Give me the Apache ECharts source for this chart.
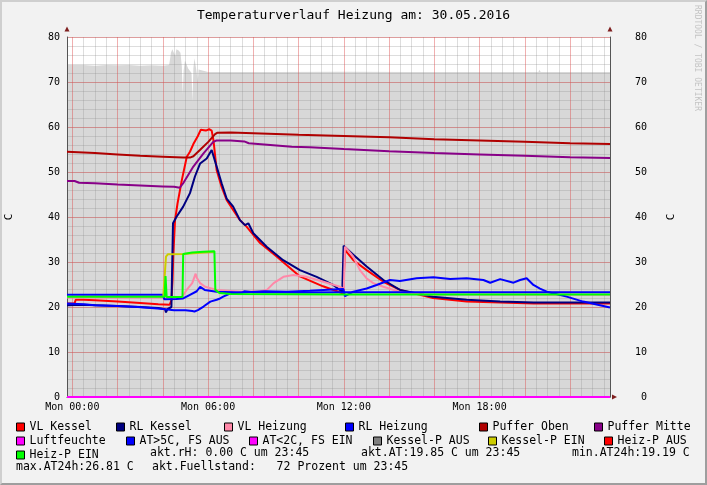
<!DOCTYPE html>
<html><head><meta charset="utf-8">
<script src="https://cdn.jsdelivr.net/npm/echarts@6/dist/echarts.min.js"></script>
<style>
html,body{margin:0;padding:0;background:#f2f2f2;}
#wrap{position:relative;width:707px;height:485px;}
#c{width:707px;height:485px;}
#frame{position:absolute;left:0;top:0;width:707px;height:485px;box-sizing:border-box;border-top:2px solid #cfcfcf;border-left:2px solid #cfcfcf;border-bottom:2px solid #9e9e9e;border-right:2px solid #9e9e9e;pointer-events:none;}
</style></head>
<body><div id="wrap"><div id="c"></div><div id="frame"></div></div>
<script>
// ---------- DATA (time in hours since Mon 00:00, values in C / %) ----------
const X_MIN = -0.235, X_MAX = 23.765;
const xTickHours = [0, 6, 12, 18];
const xTickLabels = ['Mon 00:00', 'Mon 06:00', 'Mon 12:00', 'Mon 18:00'];
const yTicks = [0, 10, 20, 30, 40, 50, 60, 70, 80];

const fuellstand = [[-0.235,73.8],[0.5,73.8],[1.0,73.6],[1.5,73.8],[2.0,73.7],[2.5,73.8],[3.0,73.6],[3.5,73.7],[4.0,73.6],[4.28,73.8],[4.36,76.5],[4.42,77.3],[4.5,77.0],[4.55,75.8],[4.6,77.3],[4.7,77.0],[4.78,76.5],[4.84,73.5],[4.88,67.2],[4.92,72.5],[4.98,74.8],[5.05,74.5],[5.12,73.0],[5.2,73.2],[5.27,72.0],[5.31,65.6],[5.35,73.0],[5.4,75.3],[5.46,75.0],[5.5,72.0],[5.54,69.8],[5.58,72.8],[5.65,72.5],[6.0,72.2],[9.0,72.2],[12.0,72.3],[15.0,72.2],[18.0,72.2],[20.6,72.2],[20.65,72.7],[20.7,72.2],[23.765,72.2]];

const vlKessel = [[-0.235,20.8],[0.1,20.8],[0.15,21.6],[0.5,21.6],[1,21.5],[2,21.2],[3,20.9],[3.8,20.6],[4.3,20.5],[4.38,21.5],[4.43,26],[4.46,31.2],[4.54,39.3],[4.65,43],[4.84,48.2],[5.06,53.4],[5.2,54.5],[5.35,56.2],[5.55,58],[5.68,59.4],[5.75,59.6],[5.9,59.2],[6.05,59.5],[6.16,59.2],[6.24,57],[6.38,50.4],[6.6,46.7],[6.82,43.8],[7.05,42],[7.41,39.3],[7.71,37.8],[8.3,34.2],[9.03,31.2],[10.06,26.8],[11.08,24.6],[11.97,23.0],[12.05,32.7],[12.42,30.4],[13.01,28.2],[13.75,25.6],[14.48,23.8],[15.94,22.0],[17.43,21.2],[18.91,21.0],[20.4,20.8],[22,20.8],[23.765,20.8]];

const rlKessel = [[-0.235,20.4],[0.5,20.5],[1,20.4],[2,20.2],[3,20.0],[3.8,19.8],[4.1,19.5],[4.14,18.8],[4.2,19.5],[4.38,20],[4.45,38.6],[4.6,40],[4.9,42.3],[5.2,45.3],[5.42,49],[5.65,51.9],[5.94,53],[6.16,54.9],[6.38,51.2],[6.6,47.5],[6.82,44.1],[7.11,42.3],[7.41,39.3],[7.63,38.2],[7.78,38.6],[8.0,36.4],[8.59,33.4],[9.32,30.4],[10.06,28.2],[10.8,26.7],[11.53,24.9],[11.93,23.4],[11.99,33.6],[12.42,31.6],[13.01,29],[13.75,26],[14.48,23.8],[15.94,22.3],[17.43,21.6],[18.91,21.2],[20.4,21],[22,21],[23.765,21]];

const vlHeizung = [[-0.235,22.1],[4.3,22.1],[4.85,22.2],[4.95,23],[5.1,24.1],[5.3,25.3],[5.45,27.4],[5.5,26.5],[5.65,25.3],[5.87,24.5],[6.38,23.8],[7.5,23.4],[8.3,23.5],[8.6,23.8],[8.9,25.3],[9.33,26.7],[9.77,27.1],[10.36,26.7],[11.1,25.6],[11.83,24.5],[12.0,24.0],[12.05,33.4],[12.42,31.2],[12.71,28.2],[13.0,26.4],[13.3,25.3],[13.75,24.5],[14.5,23.3],[15.5,22.8],[23.765,22.7]];

const rlHeizung = [[-0.235,22.7],[4.0,22.7],[4.07,21.7],[4.6,21.8],[4.9,21.9],[5.2,22.7],[5.5,23.5],[5.65,24.5],[5.85,23.8],[6.38,23.4],[7.5,23.2],[7.6,23.5],[8,23.3],[9,23.3],[10,23.2],[12,23.3],[14,23.3],[18,23.3],[23.765,23.3]];

const pufferOben = [[-0.235,54.5],[1,54.2],[2,53.9],[3,53.6],[4,53.4],[4.9,53.2],[5.2,53.2],[5.35,53.5],[5.64,54.9],[6.01,56.7],[6.31,58.4],[6.4,58.7],[7,58.8],[10,58.3],[12,58.0],[14,57.7],[16,57.3],[18,57.0],[20,56.7],[22,56.4],[23.765,56.2]];

const pufferMitte = [[-0.235,48.0],[0.1,48.0],[0.3,47.6],[1,47.5],[2,47.2],[3,47.0],[4,46.8],[4.5,46.7],[4.75,46.5],[4.9,47.5],[5.35,51.2],[5.79,54.1],[6.23,56.7],[6.37,57.0],[7.0,57.0],[7.6,56.8],[7.8,56.4],[9.7,55.6],[10.5,55.5],[12,55.1],[14,54.6],[16,54.2],[18,53.9],[20,53.6],[22,53.3],[23.765,53.1]];

const luftfeuchte = [[-0.235,0],[23.765,0]];

const atWarm = [[-0.235,20.8],[0.5,20.6],[1.0,20.4],[2.0,20.2],[2.9,20.0],[3.9,19.6],[4.5,19.3],[5.0,19.3],[5.3,19.1],[5.4,19.0],[5.55,19.3],[5.8,20.1],[6.1,21.2],[6.38,21.6],[6.53,21.9],[6.67,22.3],[6.97,23.0],[7.5,23.2],[8.5,23.5],[9.5,23.4],[10.5,23.6],[11.5,23.9],[11.98,24.0],[12.05,22.4],[12.42,23.4],[13.01,24.1],[13.45,24.9],[14.04,26.0],[14.48,25.8],[15.22,26.4],[15.96,26.6],[16.7,26.2],[17.43,26.4],[18.17,26.0],[18.47,25.4],[18.91,26.2],[19.5,25.4],[19.79,26.0],[20.08,26.4],[20.38,24.9],[20.67,24.1],[20.97,23.4],[21.85,22.3],[22.58,21.2],[23.32,20.4],[23.765,19.9]];
const atCold = [];
const kesselPAus = [];
const kesselPEin = [[4.02,22.3],[4.08,26.7],[4.14,31.2],[4.22,31.7],[4.9,31.8],[6.28,32.3]];
const heizPAus = [];
const heizPEin = [[-0.235,22.3],[4.08,22.3],[4.12,26.9],[4.17,22.2],[4.87,22.2],[4.9,31.8],[5.3,32.1],[5.8,32.3],[6.28,32.4],[6.32,23.8],[6.5,23.1],[7.0,22.9],[12,22.8],[23.765,22.8]];

const seriesNames = ['VL Kessel','RL Kessel','VL Heizung','RL Heizung','Puffer Oben','Puffer Mitte','Luftfeuchte','AT>5C, FS AUS','AT<2C, FS EIN','Kessel-P AUS','Kessel-P EIN','Heiz-P AUS','Heiz-P EIN'];
const seriesData = [vlKessel, rlKessel, vlHeizung, rlHeizung, pufferOben, pufferMitte, luftfeuchte, atWarm, atCold, kesselPAus, kesselPEin, heizPAus, heizPEin];
const seriesColors = ['#ff0000','#000080','#ff88a8','#0000ff','#b00000','#880088','#ff00ff','#0000ff','#ff00ff','#808080','#cccc00','#ff0000','#00ff00'];

const infoTexts = ['akt.rH: 0.00 C um 23:45','akt.AT:19.85 C um 23:45','min.AT24h:19.19 C','max.AT24h:26.81 C','akt.Fuellstand:   72 Prozent um 23:45'];

// ---------- LAYOUT ----------
const MONO = 'DejaVu Sans Mono';
const legendPos = [
  [16,425],[116,425],[224,425],[345,425],[479,425],[594,425],
  [16,439],[126,439],[249,439],[373,439],[488,439],[604,439],
  [16,453]
];
const infoPos = [[150,453],[361,453],[572,453],[16,467],[152,467]];

const minorGrid = [], majorGrid = [];
for (let h = 0; h < X_MAX; h += 0.5) { if (h % 2 === 0) majorGrid.push(h); else minorGrid.push(h); }

const GRID_MINOR = 'rgba(143,143,143,0.30)';
const GRID_MAJOR = 'rgba(222,80,80,0.45)';
const AXIS_COL = '#555555';
const ARROW_COL = '#7f1f1f';

const series = [];
series.push({
  name: 'Fuellstand', type: 'line', data: fuellstand, z: 0, symbol: 'none', silent: true,
  lineStyle: { width: 0, color: '#d8d8d8' }, itemStyle: { color: '#d8d8d8' },
  areaStyle: { color: '#d8d8d8', opacity: 1 }
});
series.push({
  name: '_minor', type: 'line', data: [], z: 1, silent: true,
  markLine: { z: 1, silent: true, symbol: ['none','none'], label: { show: false }, animation: false,
    lineStyle: { type: 'solid', width: 1, color: GRID_MINOR },
    data: minorGrid.map(h => ({ xAxis: h })) }
});
series.push({
  name: '_major', type: 'line', data: [], z: 2, silent: true,
  markLine: { z: 2, silent: true, symbol: ['none','none'], label: { show: false }, animation: false,
    lineStyle: { type: 'solid', width: 1, color: GRID_MAJOR },
    data: majorGrid.map(h => ({ xAxis: h })) }
});
seriesNames.forEach((n, i) => {
  series.push({
    name: n, type: 'line', data: seriesData[i], z: 3, symbol: 'none', showSymbol: false,
    clip: false, silent: true,
    lineStyle: { width: 2, color: seriesColors[i] }, itemStyle: { color: seriesColors[i] }
  });
});

const legends = seriesNames.map((n, i) => ({
  data: [n], left: legendPos[i][0], top: legendPos[i][1] - 4, padding: 0,
  icon: 'rect', itemWidth: 8, itemHeight: 8, selectedMode: false,
  itemStyle: { borderColor: '#000', borderWidth: 1 },
  textStyle: { fontFamily: MONO, fontSize: 11.5, color: '#000' }
}));

const graphics = infoTexts.map((t, i) => ({
  type: 'text', x: infoPos[i][0], y: infoPos[i][1], silent: true,
  style: { text: t, fill: '#000', font: '11.5px "DejaVu Sans Mono"', verticalAlign: 'middle', align: 'left' }
}));
graphics.push({
  type: 'text', x: 701, y: 5, rotation: -Math.PI / 2, silent: true,
  style: { text: 'RRDTOOL / TOBI OETIKER', fill: '#c4c4c4', font: '8px "DejaVu Sans Mono"', verticalAlign: 'top', align: 'left' }
});

const yBase = { type: 'value', min: 0, max: 80, interval: 10 };
const option = {
  animation: false,
  backgroundColor: '#f2f2f2',
  title: { text: 'Temperaturverlauf Heizung am: 30.05.2016', left: 'center', top: 9, padding: 0,
    textStyle: { fontFamily: MONO, fontSize: 13, fontWeight: 'normal', color: '#000' } },
  legend: legends,
  graphic: graphics,
  grid: { left: 67, right: 97, top: 37, bottom: 88, show: true, backgroundColor: '#ffffff', borderWidth: 0,
    containLabel: false, outerBoundsMode: 'none' },
  xAxis: [
    { type: 'value', min: X_MIN, max: X_MAX, position: 'bottom', z: 2,
      axisLine: { show: true, onZero: false, lineStyle: { color: AXIS_COL, width: 1 } },
      axisTick: { show: false }, splitLine: { show: false },
      axisLabel: { show: true, customValues: xTickHours, margin: 5, fontFamily: MONO, fontSize: 10, color: '#000',
        formatter: v => { const i = xTickHours.indexOf(v); return i >= 0 ? xTickLabels[i] : ''; } } },
    { type: 'value', min: X_MIN, max: X_MAX, position: 'bottom', z: 2,
      axisLine: { show: true, onZero: false, symbol: ['none','triangle'], symbolSize: [5,5], symbolOffset: [0,4.5],
        lineStyle: { color: ARROW_COL, opacity: 0 } },
      axisTick: { show: false }, splitLine: { show: false }, axisLabel: { show: false } }
  ],
  yAxis: [
    Object.assign({}, yBase, { position: 'left', z: 2, name: 'C', nameLocation: 'middle', nameGap: 52, nameRotate: 90,
      nameTextStyle: { fontFamily: MONO, fontSize: 11, color: '#000' },
      axisLine: { show: true, onZero: false, lineStyle: { color: AXIS_COL } }, axisTick: { show: false },
      axisLabel: { margin: 7, fontFamily: MONO, fontSize: 10, color: '#000',
        formatter: v => (yTicks.indexOf(v) >= 0 ? String(v) : '') },
      splitLine: { show: true, lineStyle: { color: GRID_MAJOR, width: 1 } } }),
    Object.assign({}, yBase, { position: 'right', z: 2, name: 'C', nameLocation: 'middle', nameGap: 56, nameRotate: 90,
      nameTextStyle: { fontFamily: MONO, fontSize: 11, color: '#000' },
      axisLine: { show: true, onZero: false, lineStyle: { color: AXIS_COL } }, axisTick: { show: false },
      axisLabel: { margin: 37, align: 'right', fontFamily: MONO, fontSize: 10, color: '#000' },
      splitLine: { show: false } }),
    { type: 'value', min: 0, max: 80, interval: 2, position: 'left', z: 1,
      axisLine: { show: false, onZero: false }, axisTick: { show: false }, axisLabel: { show: false },
      splitLine: { show: true, lineStyle: { color: GRID_MINOR, width: 1 } } },
    Object.assign({}, yBase, { position: 'left', z: 2,
      axisLine: { show: true, onZero: false, symbol: ['none','triangle'], symbolSize: [5,5], symbolOffset: [0,8], lineStyle: { color: ARROW_COL, opacity: 0 } },
      axisTick: { show: false }, axisLabel: { show: false }, splitLine: { show: false } }),
    Object.assign({}, yBase, { position: 'right', z: 2,
      axisLine: { show: true, onZero: false, symbol: ['none','triangle'], symbolSize: [5,5], symbolOffset: [0,8], lineStyle: { color: ARROW_COL, opacity: 0 } },
      axisTick: { show: false }, axisLabel: { show: false }, splitLine: { show: false } })
  ],
  series: series
};
const chart = echarts.init(document.getElementById('c'), null, { renderer: 'canvas' });
chart.setOption(option);
</script></body></html>
